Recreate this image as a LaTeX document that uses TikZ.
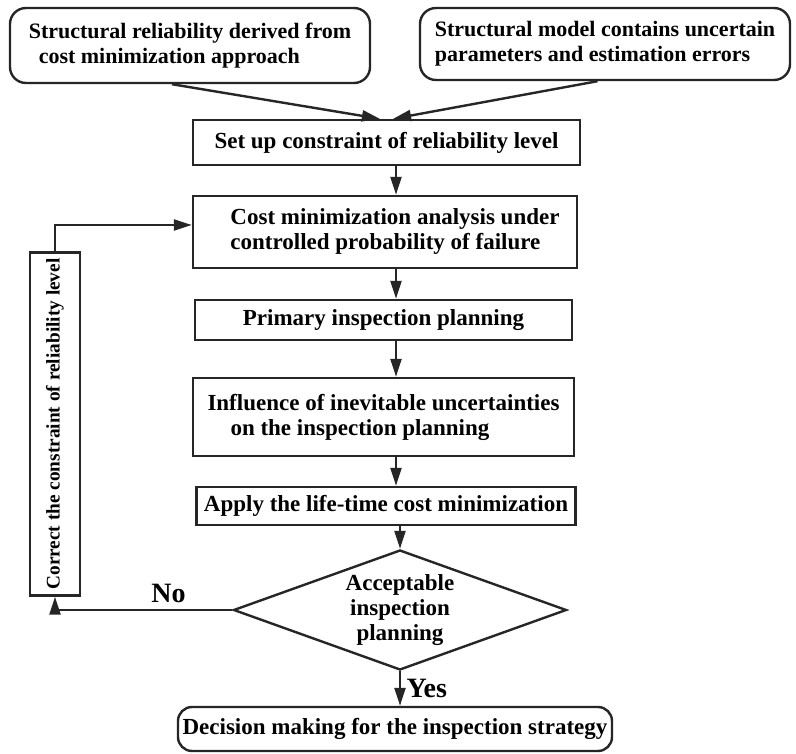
\documentclass[tikz,border=0pt]{standalone}
\usepackage{fontspec}
\setmainfont{Liberation Serif}
\usetikzlibrary{shapes.geometric,arrows.meta,calc}
\begin{document}
\begin{tikzpicture}[x=1pt,y=-1pt,
  font=\fontsize{23}{25}\selectfont\bfseries,
  box/.style={draw=black!85,line width=2.4pt,rectangle,inner sep=0pt,align=left},
  rbox/.style={box,rounded corners=16pt,font=\fontsize{22}{25}\selectfont\bfseries},
  flow/.style={draw=black!85,line width=2.4pt,-{Triangle[length=18pt,width=11pt]}},
  lbl/.style={font=\fontsize{28}{30}\selectfont\bfseries}]
\useasboundingbox (0,0) rectangle (796,754);
\node[rbox,minimum width=360pt,minimum height=75pt] (top1) at (190,45.5)
  {Structural reliability derived from\\\hspace{10pt}cost minimization approach};
\node[rbox,minimum width=370pt,minimum height=72pt] (top2) at (605,44)
  {Structural model contains uncertain\\parameters and estimation errors};
\node[box,minimum width=387pt,minimum height=45pt] (setup) at (386.5,142.5)
  {Set up constraint of reliability level};
\node[box,minimum width=384pt,minimum height=72pt] (cost) at (385,232)
  {\hspace{20pt}Cost minimization analysis under\\\hspace{20pt}controlled probability of failure};
\node[box,minimum width=377pt,minimum height=40pt] (prim) at (383.5,320)
  {Primary inspection planning};
\node[box,minimum width=381pt,minimum height=78pt] (infl) at (383.5,417)
  {Influence of inevitable uncertainties\\\hspace{23pt}on the inspection planning};
\node[box,minimum width=379pt,minimum height=38pt] (apply) at (386,506)
  {Apply the life-time cost minimization};
\node[box,diamond,aspect=2.78,align=center,minimum width=333pt,minimum height=120pt] (acc) at (400,610)
  {Acceptable\\inspection\\planning};
\node[rbox,rounded corners=14pt,minimum width=434pt,minimum height=44pt,font=\fontsize{23}{25}\selectfont\bfseries] (dec) at (395,729)
  {Decision making for the inspection strategy};
\node[box,minimum width=50pt,minimum height=343pt] (corr) at (55,424) {};
\node[rotate=90,font=\fontsize{19.3}{22}\selectfont\bfseries] (corrt) at (corr.center)
  {Correct the constraint of reliability level};
\coordinate (ax) at (396,0);
\draw[flow] ($(top1.south west)!0.45!(top1.south east)$) -- ($(setup.north west)!0.483!(setup.north east)$);
\draw[flow] ($(top2.south west)!0.48!(top2.south east)$) -- ($(setup.north west)!0.517!(setup.north east)$);
\draw[flow] (setup.south -| ax) -- (cost.north -| ax);
\draw[flow] (cost.south -| ax) -- (prim.north -| ax);
\draw[flow] (prim.south -| ax) -- (infl.north -| ax);
\draw[flow] (infl.south -| ax) -- (apply.north -| ax);
\draw[flow] (apply.south -| acc.north) -- (acc.north);
\draw[flow] (acc.south) -- node[lbl,right=2pt,pos=0.5] (yes) {Yes} (acc.south |- dec.north);
\draw[flow] (acc.west) -- node[lbl,above=3pt,pos=0.36] (no) {No} (acc.west -| corr.south) -- (corr.south);
\draw[flow] (corr.north) |- ($(cost.west)+(0,-7)$);
\end{tikzpicture}
\end{document}
